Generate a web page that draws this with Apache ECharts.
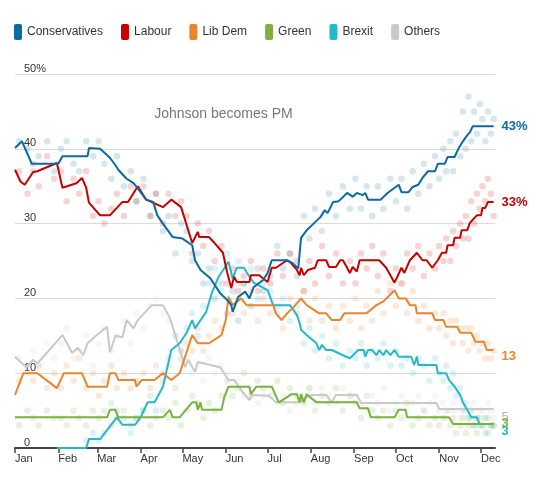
<!DOCTYPE html>
<html>
<head>
<meta charset="utf-8">
<script src="https://cdn.jsdelivr.net/npm/echarts@6/dist/echarts.min.js"></script>
<style>
  html, body { margin: 0; padding: 0; background: #fff; }
  #chart { width: 550px; height: 486px; }
</style>
</head>
<body>
<div id="chart"></div>
<script>
// ---------- Data ----------
const partyNames = ['Conservatives', 'Labour', 'Lib Dem', 'Green', 'Brexit', 'Others'];
const monthLabels = ['Jan','Feb','Mar','Apr','May','Jun','Jul','Aug','Sep','Oct','Nov','Dec'];
const yTickLabels = { 50: '50%' };
const endLabels = ['43%', '33%', '13', '3', '3', '5'];

// Polling averages (trend lines)
const conLine = [
['2019-01-01',40.1],['2019-01-06',41],['2019-01-13',38],['2019-02-01',38],['2019-02-04',39],['2019-02-22',39],['2019-02-23',40.1],['2019-03-03',40],['2019-03-10',38.8],['2019-03-14',37.8],['2019-03-16',37.2],['2019-03-22',36],['2019-03-27',35.4],['2019-04-01',34.2],['2019-04-05',33.2],['2019-04-10',32.9],['2019-04-13',31.1],['2019-04-17',30],['2019-04-24',28.2],['2019-05-01',28],['2019-05-08',27.1],['2019-05-10',25.1],['2019-05-14',23.8],['2019-05-21',22.7],['2019-05-28',20.7],['2019-06-02',19.8],['2019-06-05',19.1],['2019-06-06',18.2],['2019-06-10',20.2],['2019-06-15',20.9],['2019-06-18',20],['2019-06-21',21.5],['2019-06-28',22.5],['2019-07-01',23.4],['2019-07-04',25.1],['2019-07-15',25.1],['2019-07-19',24.7],['2019-07-23',24],['2019-07-25',28.1],['2019-07-29',29.1],['2019-08-03',30],['2019-08-08',30.9],['2019-08-11',31.8],['2019-08-13',31.4],['2019-08-17',32.9],['2019-08-21',33],['2019-08-27',34.1],['2019-08-31',33.6],['2019-09-03',34.1],['2019-09-07',33.8],['2019-09-09',34.1],['2019-09-11',33.2],['2019-09-20',33.2],['2019-09-25',34.1],['2019-10-03',35.2],['2019-10-05',34.2],['2019-10-10',34.2],['2019-10-13',34.9],['2019-10-17',35.2],['2019-10-20',36.1],['2019-10-24',37],['2019-10-29',37],['2019-10-31',38],['2019-11-05',38],['2019-11-07',38.9],['2019-11-12',38.9],['2019-11-15',40.1],['2019-11-18',41],['2019-11-21',41.8],['2019-11-23',42.2],['2019-11-25',43],['2019-12-10',43]
];
const labLine = [
['2019-01-01',37.2],['2019-01-05',35.6],['2019-01-08',35.2],['2019-01-14',36.9],['2019-01-17',37],['2019-01-31',38.1],['2019-02-04',34.8],['2019-02-14',35.4],['2019-02-18',36.1],['2019-02-21',34.8],['2019-02-23',32.8],['2019-03-03',31.1],['2019-03-10',31.1],['2019-03-15',32.1],['2019-03-19',32.9],['2019-03-23',32.9],['2019-03-27',34.1],['2019-03-30',35],['2019-04-05',33.2],['2019-04-17',32.2],['2019-04-23',33.2],['2019-04-30',32.2],['2019-05-08',27.4],['2019-05-12',28.9],['2019-05-13',28.2],['2019-05-20',28.2],['2019-05-24',27.4],['2019-05-30',26.1],['2019-06-02',23.5],['2019-06-05',21.4],['2019-06-07',22.9],['2019-06-09',22.2],['2019-06-18',22.2],['2019-06-19',23.1],['2019-06-25',23.1],['2019-07-01',22.2],['2019-07-04',24.1],['2019-07-07',24.1],['2019-07-15',25.1],['2019-07-18',24.7],['2019-07-22',23.8],['2019-07-24',23.1],['2019-07-25',24.1],['2019-07-27',23.1],['2019-07-30',23.8],['2019-08-04',24.1],['2019-08-06',25.1],['2019-08-12',25.1],['2019-08-14',24.2],['2019-08-19',24.2],['2019-08-22',25.1],['2019-08-24',25.1],['2019-08-27',24.1],['2019-08-29',23.4],['2019-08-31',24.2],['2019-09-03',23.6],['2019-09-05',25.1],['2019-09-19',25.1],['2019-09-24',24.1],['2019-09-30',22.1],['2019-10-05',24.1],['2019-10-07',23.4],['2019-10-11',25.1],['2019-10-16',26.1],['2019-10-20',25.1],['2019-10-23',25.1],['2019-10-27',24.1],['2019-10-31',25.1],['2019-11-03',26.1],['2019-11-06',26.1],['2019-11-07',27.1],['2019-11-11',27.1],['2019-11-12',28.1],['2019-11-16',28.1],['2019-11-17',29.1],['2019-11-21',29.1],['2019-11-23',30.1],['2019-11-28',31.1],['2019-12-01',31.1],['2019-12-02',32.1],['2019-12-04',32.1],['2019-12-06',32.9],['2019-12-10',32.9]
];
const ldLine = [
['2019-01-01',7.1],['2019-01-07',10],['2019-01-17',10],['2019-01-31',8],['2019-02-05',10],['2019-02-18',10],['2019-02-22',8.2],['2019-03-08',8.2],['2019-03-10',10],['2019-03-14',10],['2019-03-16',9.1],['2019-03-28',9.1],['2019-03-29',8.2],['2019-04-02',9.1],['2019-04-11',9.1],['2019-04-17',10],['2019-04-23',9.1],['2019-04-29',10],['2019-05-08',15.1],['2019-05-12',14],['2019-05-20',14],['2019-05-29',15.1],['2019-06-01',17.1],['2019-06-03',20.2],['2019-06-06',19.1],['2019-06-12',20],['2019-06-16',19.1],['2019-07-05',19.1],['2019-07-07',18],['2019-07-11',17.1],['2019-07-15',18],['2019-07-20',18.9],['2019-07-25',20],['2019-07-29',19.1],['2019-08-07',18],['2019-08-12',18],['2019-08-16',17.1],['2019-08-22',17.1],['2019-08-25',18],['2019-09-10',18],['2019-09-17',19.1],['2019-09-22',19.6],['2019-09-30',21.1],['2019-10-03',20],['2019-10-08',20],['2019-10-11',19.1],['2019-10-15',19.1],['2019-10-16',18],['2019-10-27',18],['2019-10-29',17.1],['2019-11-04',17.1],['2019-11-06',16.2],['2019-11-14',16.2],['2019-11-16',15.4],['2019-11-24',15.4],['2019-11-27',14.2],['2019-12-03',14.2],['2019-12-05',13.1],['2019-12-10',13.1]
];
const grnLine = [
['2019-01-01',4.1],['2019-03-08',4.1],['2019-03-10',5.1],['2019-03-14',5.1],['2019-03-16',4.1],['2019-04-17',4.1],['2019-04-22',5.1],['2019-04-24',4.1],['2019-04-29',4.1],['2019-05-08',6.1],['2019-05-11',6.1],['2019-05-12',5.1],['2019-05-14',6.1],['2019-05-15',5.1],['2019-05-29',5.1],['2019-05-31',6.8],['2019-06-03',8.2],['2019-06-18',8.2],['2019-06-19',7.2],['2019-06-23',8.2],['2019-07-04',8.2],['2019-07-09',6.1],['2019-07-15',6.8],['2019-07-18',7.2],['2019-07-22',7.2],['2019-07-24',6.1],['2019-07-25',7.2],['2019-07-27',6.1],['2019-07-29',7.2],['2019-08-05',6.1],['2019-09-03',6.1],['2019-09-05',5.3],['2019-09-11',5.3],['2019-09-13',4.1],['2019-09-30',4.1],['2019-10-03',5.1],['2019-10-08',5.1],['2019-10-09',4.1],['2019-11-08',4.1],['2019-11-11',3.2],['2019-12-10',3.2]
];
const brxLine = [
['2019-01-31',0],['2019-02-21',0],['2019-02-23',1.2],['2019-03-03',1.2],['2019-03-15',4.1],['2019-03-19',3.1],['2019-03-28',3.1],['2019-04-01',4.1],['2019-04-06',6.1],['2019-04-11',6.1],['2019-04-17',8.2],['2019-04-23',13.1],['2019-04-29',14],['2019-05-04',15.4],['2019-05-08',17.1],['2019-05-10',16],['2019-05-18',18.2],['2019-05-22',20.7],['2019-05-27',22.9],['2019-06-03',24.9],['2019-06-06',22.7],['2019-06-09',24.1],['2019-06-14',24.1],['2019-06-18',22.9],['2019-06-21',22.1],['2019-07-01',21.1],['2019-07-05',19.1],['2019-07-17',19.1],['2019-07-22',17.8],['2019-07-24',16.7],['2019-07-25',15.8],['2019-07-29',15.1],['2019-08-05',14],['2019-08-07',13.1],['2019-08-09',13.8],['2019-08-12',13.1],['2019-08-16',13.1],['2019-08-24',12.4],['2019-08-29',12],['2019-09-04',13.1],['2019-09-08',13.1],['2019-09-09',12.2],['2019-09-11',13.1],['2019-09-14',13.1],['2019-09-17',12.4],['2019-09-19',13.1],['2019-09-22',12.4],['2019-09-24',13.1],['2019-09-27',12.4],['2019-09-30',13.1],['2019-10-03',12.2],['2019-10-12',12.2],['2019-10-14',11.1],['2019-10-16',12.2],['2019-10-17',11.1],['2019-10-30',11.1],['2019-10-31',10],['2019-11-06',10],['2019-11-08',9.1],['2019-11-12',8.2],['2019-11-16',7.1],['2019-11-18',6.1],['2019-11-21',5.1],['2019-11-24',4.1],['2019-11-28',4.1],['2019-11-30',3.2],['2019-12-10',3.2]
];
const othLine = [
['2019-01-01',12.2],['2019-01-09',10.8],['2019-01-14',11.8],['2019-01-17',11.3],['2019-02-04',15.1],['2019-02-11',12.7],['2019-02-15',13.4],['2019-02-19',12.4],['2019-02-22',14],['2019-02-28',15],['2019-03-08',16.2],['2019-03-10',12.8],['2019-03-14',15],['2019-03-19',14.8],['2019-03-22',17.1],['2019-03-27',16],['2019-03-30',17.1],['2019-04-09',19.1],['2019-04-17',19.1],['2019-04-22',17.4],['2019-04-27',14.4],['2019-05-03',10.8],['2019-05-05',11.8],['2019-05-10',10.2],['2019-05-12',11.5],['2019-05-28',10.8],['2019-06-03',9.1],['2019-06-07',9.1],['2019-06-13',7.5],['2019-06-18',6.4],['2019-06-20',7.1],['2019-07-02',7],['2019-07-07',6.1],['2019-07-24',6.1],['2019-07-29',6.8],['2019-08-02',7.1],['2019-08-12',7.1],['2019-08-16',6.1],['2019-08-19',7.1],['2019-09-03',7.1],['2019-09-06',6],['2019-10-30',6],['2019-11-01',5.2],['2019-12-10',5.2]
];

// Individual polls
const pollDates = [
'2019-01-04','2019-01-10','2019-01-14','2019-01-18','2019-01-24','2019-01-29',
'2019-02-03','2019-02-07','2019-02-12','2019-02-16','2019-02-21','2019-02-26',
'2019-03-02','2019-03-06','2019-03-11','2019-03-15','2019-03-20','2019-03-25','2019-03-29',
'2019-04-03','2019-04-08','2019-04-12','2019-04-17','2019-04-21','2019-04-26','2019-04-30',
'2019-05-04','2019-05-08','2019-05-12','2019-05-16','2019-05-20','2019-05-24','2019-05-29',
'2019-06-02','2019-06-06','2019-06-10','2019-06-14','2019-06-19','2019-06-24','2019-06-28',
'2019-07-03','2019-07-08','2019-07-12','2019-07-17','2019-07-22','2019-07-27','2019-07-31',
'2019-08-04','2019-08-09','2019-08-14','2019-08-19','2019-08-24','2019-08-29',
'2019-09-02','2019-09-06','2019-09-10','2019-09-14','2019-09-18','2019-09-22','2019-09-27',
'2019-10-01','2019-10-05','2019-10-09','2019-10-13','2019-10-17','2019-10-21','2019-10-25','2019-10-29',
'2019-11-01','2019-11-04','2019-11-06','2019-11-09','2019-11-11','2019-11-13','2019-11-16','2019-11-18','2019-11-20','2019-11-22','2019-11-24','2019-11-26','2019-11-28','2019-11-30',
'2019-12-02','2019-12-04','2019-12-06','2019-12-08','2019-12-10'
];
const conPolls = [41,40,37,39,41,37, 40,41,38,37,41,39, 41,38,36,39,35,37,33, 36,31,34,29,31,26,30, 29,25,26,22,24,20,22, 18,21,17,22,19,24,21, 23,27,24,26,23,31,28, 32,29,34,31,35,32, 36,32,35,31,35,32,36, 33,36,32,37,34,38,35,39, 36,40,37,41,37,42,39,45,40,47,41,45,42,46, 44,41,45,42,44];
const labPolls = [37,34,38,35,39,36, 37,33,36,34,37,31, 33,30,32,34,31,35,33, 35,31,34,30,34,31,33, 31,26,30,27,29,25,27, 22,24,21,23,25,21,24, 22,26,23,26,25,21,25, 22,27,23,26,22,25, 22,26,24,27,23,26,21, 24,22,26,24,27,23,26,24, 27,25,28,25,29,27,30,28,31,28,33,30,34,32, 35,33,36,34,31];
const ldPolls  = [9,11,9,11,8,10, 8,11,9,12,8,10, 7,9,11,8,10,8,9, 10,8,11,9,11,8,12, 14,13,16,13,15,17,16, 20,18,22,18,21,17,20, 18,19,16,20,18,21,17, 20,17,19,16,19,17, 20,16,19,17,21,18,22, 19,22,18,21,17,19,16,18, 16,18,15,17,14,17,16,14,16,13,16,14,15,13, 14,12,14,12,13];
const grnPolls = [3,5,4,3,5,4, 4,3,5,4,3,5, 4,5,6,4,5,3,4, 5,3,4,5,4,6,3, 5,7,6,4,6,5,7, 9,7,8,10,7,9,8, 7,9,6,8,7,6,8, 5,7,6,8,5,7, 6,4,7,5,4,5,3, 5,4,6,3,4,5,3,4, 3,4,5,3,4,2,3,4,2,3,4,3,2,4, 3,2,4,3,3];
const brxPolls = [null,null,null,null,null,null, null,null,null,null,1,2, 1,2,3,5,4,2,4, 5,7,5,10,12,15,13, 16,18,15,19,22,24,21, 26,23,25,22,24,20,22, 21,18,20,17,19,14,16, 13,15,12,14,11,13, 12,14,11,13,12,14,11, 13,11,12,10,12,11,9,12, 10,9,11,8,10,7,8,5,6,4,5,3,4,3, 3,4,2,3,3];
const othPolls = [12,10,13,11,14,12, 14,16,12,13,15,11, 14,16,13,15,17,14,18, 16,19,20,18,17,15,13, 12,10,11,9,12,10,11, 10,8,9,7,8,6,7, 8,6,7,5,6,7,8, 6,8,7,6,8,7, 7,6,5,7,6,8,5, 6,7,5,6,7,5,6,7, 5,6,4,5,6,5,4,6,5,4,5,6,4,5, 5,4,6,5,4];

const johnsonDate = '2019-07-24';
const johnsonText = 'Johnson becomes PM';

// ---------- Styles ----------
const FONT = "'Liberation Sans', Arial, sans-serif";
const colors = ['#0a6ba1', '#c70000', '#ea852c', '#79b23e', '#25b8c8', '#c9c9c9'];
const endLabelColors = ['#0a6ba1', '#c70000', '#ea852c', '#79b23e', '#25b8c8', '#b5b5b5'];
const lines = [conLine, labLine, ldLine, grnLine, brxLine, othLine];
const polls = [conPolls, labPolls, ldPolls, grnPolls, brxPolls, othPolls];
const endOffsets = [[0,0],[0,1],[0,6],[0,-1],[0,7],[0,8]];
const lineZ = [10, 9, 8, 7, 6, 5];

const series = [];
// poll dots
partyNames.forEach((name, i) => {
  const data = [];
  pollDates.forEach((d, j) => { if (polls[i][j] != null) data.push([d, polls[i][j]]); });
  series.push({
    name: name + ' polls',
    type: 'scatter',
    data: data,
    symbolSize: 6.5,
    z: 1,
    silent: true,
    itemStyle: { color: colors[i], opacity: 0.17 }
  });
});
// Johnson marker
series.push({
  name: 'marker',
  type: 'line',
  data: [],
  z: 2,
  silent: true,
  markLine: {
    silent: true,
    symbol: 'none',
    label: { show: false },
    lineStyle: { color: '#8a8a8a', width: 1.5, type: [2, 3] },
    data: [[{ coord: [johnsonDate, 0] }, { coord: [johnsonDate, 51.2] }]]
  },
  markPoint: {
    silent: true,
    symbol: 'circle',
    symbolSize: 0,
    data: [{
      coord: [johnsonDate, 44.7],
      label: {
        show: true, position: 'left', distance: 7,
        formatter: johnsonText, color: '#777', fontSize: 14, fontFamily: FONT
      }
    }]
  }
});
// trend lines (order: others at bottom, conservatives at top)
[5, 4, 3, 2, 1, 0].forEach(i => {
  series.push({
    name: partyNames[i],
    type: 'line',
    data: lines[i],
    showSymbol: false,
    symbol: 'none',
    z: lineZ[i],
    silent: true,
    lineStyle: { color: colors[i], width: 2 },
    itemStyle: { color: colors[i] },
    endLabel: {
      show: true,
      formatter: endLabels[i],
      color: endLabelColors[i],
      fontWeight: i === 5 ? 'normal' : 'bold',
      fontSize: 13,
      fontFamily: FONT,
      distance: 8,
      offset: endOffsets[i]
    }
  });
});

const option = {
  animation: false,
  backgroundColor: '#fff',
  textStyle: { fontFamily: FONT },
  legend: {
    left: 14, top: 24, padding: 0,
    icon: 'roundRect',
    itemWidth: 8, itemHeight: 16, itemGap: 18,
    textStyle: { color: '#333', fontSize: 12, fontFamily: FONT },
    data: partyNames.map((n, i) => ({ name: n, itemStyle: { color: colors[i], opacity: 1 } }))
  },
  grid: { left: 15, right: 55, top: 74, bottom: 38, containLabel: false },
  xAxis: {
    type: 'time',
    min: '2019-01-01',
    max: '2019-12-11',
    minInterval: 28 * 86400000,
    maxInterval: 31 * 86400000,
    splitNumber: 12,
    axisLine: { show: true, lineStyle: { color: '#444', width: 2 } },
    axisTick: { show: true, length: 5, lineStyle: { color: '#444', width: 1.5 } },
    axisLabel: {
      color: '#333', fontSize: 11, fontFamily: FONT, align: 'left', margin: 5,
      formatter: v => monthLabels[new Date(v).getMonth()]
    },
    splitLine: { show: false }
  },
  yAxis: {
    type: 'value',
    min: 0, max: 50, interval: 10,
    axisLine: { show: false },
    axisTick: { show: false },
    axisLabel: {
      inside: true, margin: 9, verticalAlign: 'bottom',
      color: '#333', fontSize: 11, fontFamily: FONT,
      formatter: v => (yTickLabels[v] || String(v))
    },
    splitLine: { lineStyle: { color: '#dcdcdc', width: 1 } }
  },
  series: series
};

const chart = echarts.init(document.getElementById('chart'), null, { renderer: 'canvas' });
chart.setOption(option);
</script>
</body>
</html>
